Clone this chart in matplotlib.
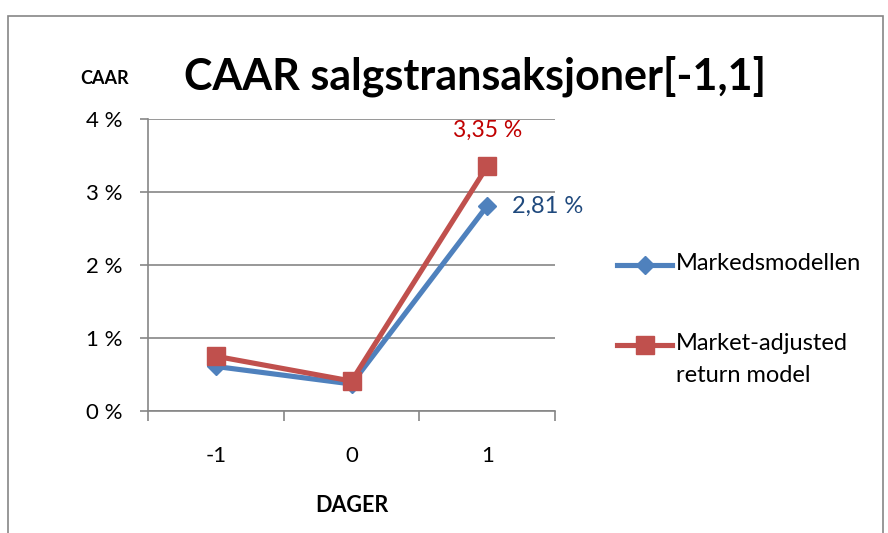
import matplotlib.pyplot as plt
from matplotlib.lines import Line2D
from matplotlib.patches import Rectangle
from matplotlib.ticker import FixedLocator, FuncFormatter

plt.rcParams['font.family'] = ['Lato', 'DejaVu Sans']

days = ["-1", "0", "1"]
markedsmodellen = [0.61, 0.37, 2.81]
market_adjusted = [0.75, 0.41, 3.35]
y_ticks = [0, 1, 2, 3, 4]

blue = "#4F81BD"
red = "#C0504D"
grey = "#868686"

fig = plt.figure(figsize=(8.88, 5.33), dpi=100)
ax = fig.add_axes([148 / 888, 1 - 411 / 533, 407 / 888, 292 / 533])

x = list(range(len(days)))
blue_style = dict(color=blue, lw=3.7, marker="D", markersize=9)
red_style = dict(color=red, lw=3.7, marker="s", markersize=13)
ax.plot(x, markedsmodellen, zorder=3, **blue_style)
ax.plot(x, market_adjusted, zorder=3, **red_style)

ax.set_xlim(-0.5, len(days) - 0.5)
ax.set_ylim(0, 4)
ax.set_yticks(y_ticks)
ax.yaxis.set_major_formatter(FuncFormatter(lambda v, p: f"{v:.0f} %"))
ax.set_xticks(x)
ax.set_xticklabels(days)
ax.xaxis.set_minor_locator(FixedLocator([i - 0.5 for i in range(len(days) + 1)]))
ax.tick_params(axis="x", which="major", length=0, labelsize=16, pad=25)
ax.tick_params(axis="x", which="minor", length=7, color=grey, width=1.2)
ax.tick_params(axis="y", length=6, color=grey, width=1.2, labelsize=16, pad=12)
ax.grid(axis="y", color=grey, lw=1.2)
ax.set_axisbelow(True)
for s in ["top", "right"]:
    ax.spines[s].set_visible(False)
for s in ["left", "bottom"]:
    ax.spines[s].set_color(grey)
    ax.spines[s].set_linewidth(1.2)

# data labels on the last point
ax.annotate(f"{market_adjusted[2]:.2f} %".replace(".", ","), (2, market_adjusted[2]),
            xytext=(0, 26), textcoords="offset points", ha="center", va="center",
            color="#C00000", fontsize=16.5)
ax.annotate(f"{markedsmodellen[2]:.2f} %".replace(".", ","), (2, markedsmodellen[2]),
            xytext=(18, 0), textcoords="offset points", ha="left", va="center",
            color="#1F497D", fontsize=17)

fig.text(475 / 888, 1 - 76 / 533, "CAAR salgstransaksjoner[-1,1]", ha="center",
         va="center", fontsize=31, fontweight="bold")
fig.text(105 / 888, 1 - 78 / 533, "CAAR", ha="center", va="center",
         fontsize=13, fontweight="bold")
fig.text(352 / 888, 1 - 506 / 533, "DAGER", ha="center", va="center",
         fontsize=15.5, fontweight="bold")

# legend drawn by hand so the red handle sits on the first text line
for yy, style, label in [(265, blue_style, "Markedsmodellen"),
                         (345, red_style, "Market-adjusted\nreturn model")]:
    yf = 1 - yy / 533
    fig.add_artist(Line2D([617 / 888, 672 / 888], [yf, yf], transform=fig.transFigure,
                          markevery=[], **style))
    fig.add_artist(Line2D([644.5 / 888], [yf], transform=fig.transFigure,
                          linestyle="none", **{k: v for k, v in style.items() if k != "lw"}))
    fig.text(676 / 888, yf + 12 / 533, label, ha="left", va="top", fontsize=17,
             linespacing=1.62)

fig.patches.append(Rectangle((8 / 888, -0.05), 875 / 888, 1.05 - 16 / 533,
                             transform=fig.transFigure, fill=False,
                             edgecolor=grey, lw=1.2))

fig.savefig("out.png", dpi=100)
